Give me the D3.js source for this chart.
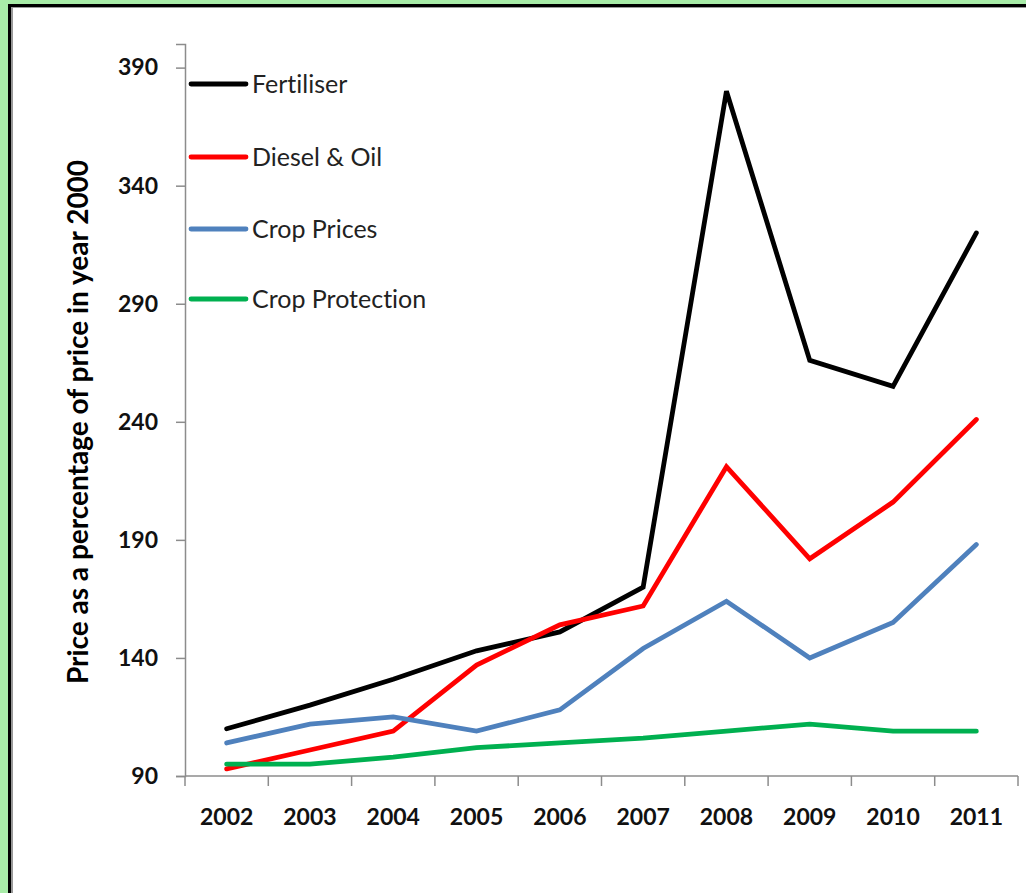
<!DOCTYPE html>
<html>
<head>
<meta charset="utf-8">
<script src="https://cdn.jsdelivr.net/npm/d3@7"></script>
<style>
  html, body { margin: 0; padding: 0; background: #a8eca8; }
  svg { display: block; }
  text { font-variant-ligatures: none; font-feature-settings: "liga" 0; }
</style>
</head>
<body>
<svg id="chart" width="1026" height="893"></svg>
<script>
// data
const years = ["2002", "2003", "2004", "2005", "2006", "2007", "2008", "2009", "2010", "2011"];
const fertiliser = [110, 120, 131, 143, 151, 170, 380, 266, 255, 320];
const dieselOil = [93, 101, 109, 137, 154, 162, 221, 182, 206, 241];
const cropPrices = [104, 112, 115, 109, 118, 144, 164, 140, 155, 188];
const cropProtection = [95, 95, 98, 102, 104, 106, 109, 112, 109, 109];
const yTicks = [90, 140, 190, 240, 290, 340, 390];

const seriesList = [
  { name: "Fertiliser", values: fertiliser, color: "#000000" },
  { name: "Diesel & Oil", values: dieselOil, color: "#ff0000" },
  { name: "Crop Prices", values: cropPrices, color: "#4f81bd" },
  { name: "Crop Protection", values: cropProtection, color: "#00b050" }
];

const svg = d3.select("#chart");

// frame: black border on left and top, white inside
svg.append("rect").attr("x", 8).attr("y", 4).attr("width", 1018).attr("height", 889).attr("fill", "#000");
svg.append("rect").attr("x", 11).attr("y", 7).attr("width", 1015).attr("height", 886).attr("fill", "#999");
svg.append("rect").attr("x", 13).attr("y", 8).attr("width", 1013).attr("height", 885).attr("fill", "#fff");

const plotLeft = 185, plotRight = 1018, plotTop = 44, plotBottom = 776;

const x = d3.scaleBand().domain(years).range([plotLeft, plotRight]);
const y = d3.scaleLinear().domain([90, 400]).range([plotBottom, plotTop]);

const axisColor = "#8c8c8c";
const fontFam = "Lato, 'Open Sans', sans-serif";

// y axis
const yAxis = svg.append("g")
  .attr("transform", "translate(" + plotLeft + ",0)")
  .call(d3.axisLeft(y).tickValues(yTicks).tickSize(9).tickPadding(18));
yAxis.select(".domain").attr("stroke", axisColor).attr("stroke-width", 1.5);
yAxis.selectAll(".tick line").attr("stroke", axisColor).attr("stroke-width", 1.5);
yAxis.selectAll(".tick text")
  .attr("fill", "#111")
  .style("font-family", fontFam)
  .style("font-weight", "bold")
  .style("font-size", "23px");

// x axis with ticks at category boundaries
const xAxisG = svg.append("g").attr("transform", "translate(0," + plotBottom + ")");
xAxisG.append("line")
  .attr("x1", plotLeft).attr("x2", plotRight)
  .attr("stroke", axisColor).attr("stroke-width", 1.5);
const bounds = years.map(d => x(d)).concat([x(years[years.length - 1]) + x.bandwidth()]);
xAxisG.selectAll("line.tk").data(bounds).enter().append("line")
  .attr("class", "tk")
  .attr("x1", d => d).attr("x2", d => d)
  .attr("y1", 0).attr("y2", 10)
  .attr("stroke", axisColor).attr("stroke-width", 1.5);
xAxisG.selectAll("text").data(years).enter().append("text")
  .attr("x", d => x(d) + x.bandwidth() / 2)
  .attr("y", 49)
  .attr("text-anchor", "middle")
  .attr("fill", "#111")
  .style("font-family", fontFam)
  .style("font-weight", "bold")
  .style("font-size", "23px")
  .text(d => d);

// y axis title
svg.append("text")
  .attr("transform", "translate(88,422) rotate(-90)")
  .attr("text-anchor", "middle")
  .attr("fill", "#000")
  .style("font-family", fontFam)
  .style("font-weight", "bold")
  .style("font-size", "28px")
  .text("Price as a percentage of price in year 2000");

// lines
const line = d3.line()
  .x((d, i) => x(years[i]) + x.bandwidth() / 2)
  .y(d => y(d));

svg.selectAll("path.series").data(seriesList).enter().append("path")
  .attr("class", "series")
  .attr("d", d => line(d.values))
  .attr("fill", "none")
  .attr("stroke", d => d.color)
  .attr("stroke-width", 4.8)
  .attr("stroke-linejoin", "miter")
  .attr("stroke-linecap", "round");

// legend
const legendY = [84, 157, 229, 299];
const legend = svg.selectAll("g.legend").data(seriesList).enter().append("g")
  .attr("class", "legend")
  .attr("transform", (d, i) => "translate(191," + legendY[i] + ")");
legend.append("line")
  .attr("x1", 0).attr("x2", 55)
  .attr("stroke", d => d.color)
  .attr("stroke-width", 4.8)
  .attr("stroke-linecap", "round");
legend.append("text")
  .attr("x", 61)
  .attr("y", 9)
  .attr("fill", "#222")
  .style("font-family", fontFam)
  .style("font-size", "25px")
  .text(d => d.name);
</script>
</body>
</html>
